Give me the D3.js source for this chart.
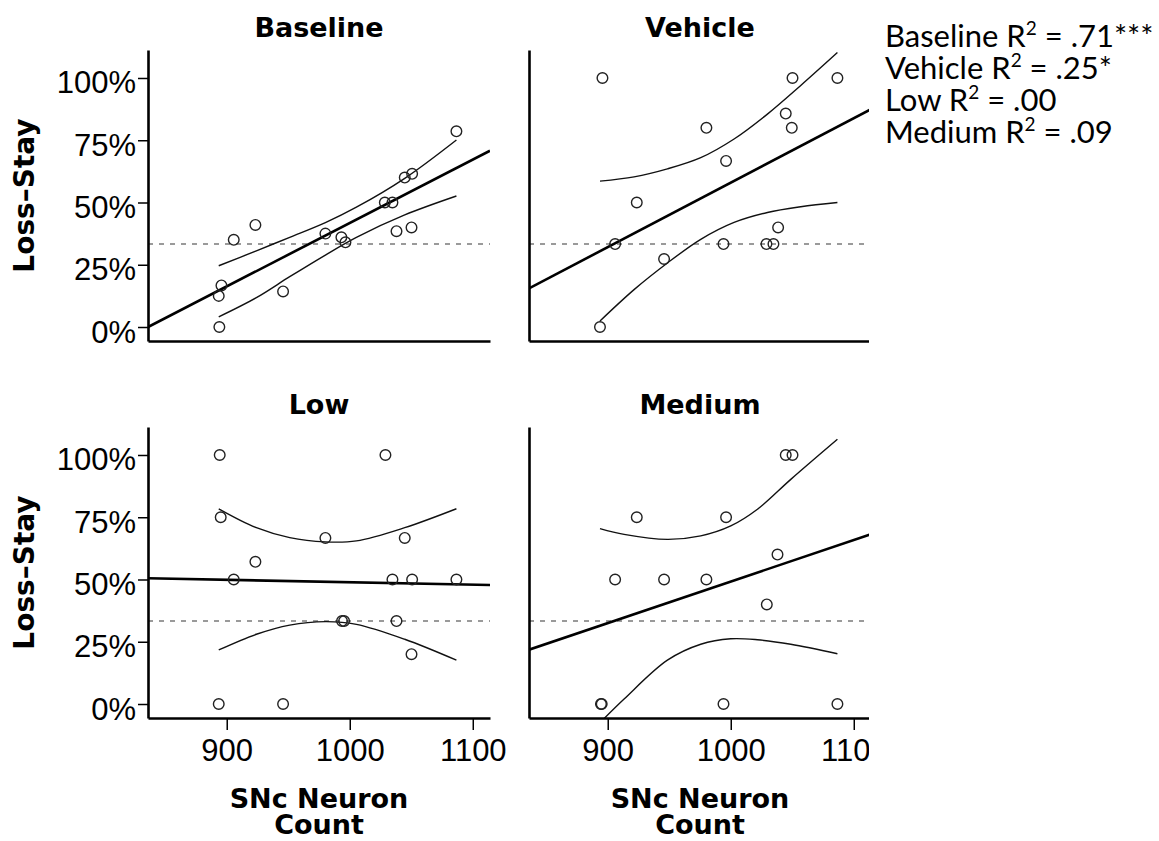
<!DOCTYPE html>
<html>
<head>
<meta charset="utf-8">
<script src="https://cdn.jsdelivr.net/npm/d3@7"></script>
<style>
body { margin: 0; background: #fff; }
</style>
</head>
<body>
<div id="chart"></div>
<script>

// ---- data ----
var panelNames = [ "Baseline", "Vehicle", "Low", "Medium" ];
var r2Names = [ "Baseline", "Vehicle", "Low", "Medium" ];
var r2Values = [ " = .71***", " = .25*", " = .00", " = .09" ];

var xTicks = [ 900, 1000, 1100 ];
var yTicks = [ 0, 0.25, 0.5, 0.75, 1 ];
var chanceLevel = 1 / 3;

var baselineX = [ 894, 893.5, 895.7, 905.7, 923.3, 945.8, 980.2, 993.2, 996.5, 1028.5, 1034.7, 1038, 1044.7, 1050.7, 1050.2, 1086.7 ];
var baselineY = [ 0, 0.125, 0.167, 0.35, 0.41, 0.143, 0.375, 0.36, 0.34, 0.5, 0.5, 0.385, 0.6, 0.615, 0.4, 0.786 ];
var baselineFit = [ 0.0, 0.708 ];
var baselineCiX = [ 893.5, 924.1, 951.2, 980.2, 1005.4, 1044.7, 1086.7 ];
var baselineCiUp = [ 0.246, 0.306, 0.36, 0.419, 0.481, 0.597, 0.751 ];
var baselineCiLo = [ 0.041, 0.118, 0.202, 0.289, 0.36, 0.45, 0.526 ];

var vehicleX = [ 895.7, 893.7, 906, 923.6, 945.8, 980.2, 996.2, 994.1, 1029, 1034.7, 1038.5, 1044.7, 1050.2, 1049.6, 1086.7 ];
var vehicleY = [ 1, 0, 0.333, 0.5, 0.273, 0.8, 0.667, 0.333, 0.333, 0.333, 0.4, 0.857, 1, 0.8, 1 ];
var vehicleFit = [ 0.155, 0.875 ];
var vehicleCiX = [ 893.7, 921.4, 948.5, 975.6, 1002.7, 1029.8, 1056.9, 1086.7 ];
var vehicleCiUp = [ 0.586, 0.603, 0.635, 0.68, 0.755, 0.855, 0.97, 1.102 ];
var vehicleCiLo = [ 0.024, 0.15, 0.257, 0.352, 0.42, 0.46, 0.483, 0.5 ];

var lowX = [ 894.3, 895.1, 893.5, 905.7, 923.3, 945.8, 980.2, 993.7, 995.4, 1029, 1034.7, 1038, 1044.7, 1050.7, 1050.2, 1086.7 ];
var lowY = [ 1, 0.75, 0, 0.5, 0.571, 0, 0.667, 0.333, 0.333, 1, 0.5, 0.333, 0.667, 0.5, 0.2, 0.5 ];
var lowFit = [ 0.505, 0.478 ];
var lowCiX = [ 893.5, 924.1, 951.2, 980.2, 1005.4, 1044.7, 1086.7 ];
var lowCiUp = [ 0.784, 0.708, 0.668, 0.651, 0.655, 0.708, 0.784 ];
var lowCiLo = [ 0.217, 0.28, 0.317, 0.331, 0.32, 0.26, 0.176 ];

var mediumX = [ 894.5, 895.1, 906, 923.6, 945.8, 980.2, 994.1, 996.2, 1029.3, 1038, 1044.7, 1050.2, 1086.7 ];
var mediumY = [ 0, 0, 0.5, 0.75, 0.5, 0.5, 0, 0.75, 0.4, 0.6, 1, 1, 0 ];
var mediumFit = [ 0.218, 0.682 ];
var mediumCiX = [ 893.7, 913.3, 948.5, 975.6, 1000, 1021.7, 1048.8, 1086.7 ];
var mediumCiUp = [ 0.704, 0.681, 0.661, 0.675, 0.715, 0.782, 0.902, 1.063 ];
var mediumCiLo = [ -0.075, 0.02, 0.176, 0.24, 0.262, 0.258, 0.24, 0.202 ];

var xDomain = [ 836, 1114 ];
var yDomain = [ -0.0562, 1.1124 ];

var panels = [
    { name: panelNames[0], xs: baselineX, ys: baselineY, fit: baselineFit, ciX: baselineCiX, up: baselineCiUp, lo: baselineCiLo, col: 0, row: 0 },
    { name: panelNames[1], xs: vehicleX, ys: vehicleY, fit: vehicleFit, ciX: vehicleCiX, up: vehicleCiUp, lo: vehicleCiLo, col: 1, row: 0 },
    { name: panelNames[2], xs: lowX, ys: lowY, fit: lowFit, ciX: lowCiX, up: lowCiUp, lo: lowCiLo, col: 0, row: 1 },
    { name: panelNames[3], xs: mediumX, ys: mediumY, fit: mediumFit, ciX: mediumCiX, up: mediumCiUp, lo: mediumCiLo, col: 1, row: 1 }
];

// ---- layout ----
var W = 1159, H = 841;
var colLeft = [ 148, 529 ];
var rowTop = [ 50, 427 ];
var pw = 342, ph = 291;

var svg = d3.select( '#chart' ).append( 'svg' )
    .attr( 'width', W ).attr( 'height', H )
    .style( 'font-family', 'DejaVu Sans, sans-serif' );

var defs = svg.append( 'defs' );
defs.append( 'clipPath' ).attr( 'id', 'rightEdge' )
    .append( 'rect' ).attr( 'x', 0 ).attr( 'y', 0 ).attr( 'width', 869 ).attr( 'height', H );
defs.append( 'clipPath' ).attr( 'id', 'plotArea' )
    .append( 'rect' ).attr( 'x', 0 ).attr( 'y', 0 ).attr( 'width', pw ).attr( 'height', ph );

var xScale = d3.scaleLinear().domain( xDomain ).range( [ 0, pw ] );
var yScale = d3.scaleLinear().domain( yDomain ).range( [ ph, 0 ] );

var curve = d3.line()
    .x( function( d ) { return xScale( d[0] ); } )
    .y( function( d ) { return yScale( d[1] ); } )
    .curve( d3.curveCatmullRom.alpha( 0.5 ) );

var rightGroup = svg.append( 'g' ).attr( 'clip-path', 'url(#rightEdge)' );

panels.forEach( function( p ) {

    var parent = p.col == 1 ? rightGroup : svg;
    var g = parent.append( 'g' )
        .attr( 'transform', 'translate(' + colLeft[p.col] + ',' + rowTop[p.row] + ')' );

    // title
    g.append( 'text' )
        .attr( 'x', pw / 2 ).attr( 'y', -13 )
        .attr( 'text-anchor', 'middle' )
        .style( 'font-size', '27px' ).style( 'font-weight', 'bold' )
        .text( p.name );

    var plot = g.append( 'g' ).attr( 'clip-path', 'url(#plotArea)' );

    // chance level
    plot.append( 'line' )
        .attr( 'x1', 0 ).attr( 'x2', pw )
        .attr( 'y1', yScale( chanceLevel ) ).attr( 'y2', yScale( chanceLevel ) )
        .style( 'stroke', '#9a9a9a' ).style( 'stroke-width', 1.8 )
        .style( 'stroke-dasharray', '5,6' );

    // confidence band
    var upPts = p.ciX.map( function( x, i ) { return [ x, p.up[i] ]; } );
    var loPts = p.ciX.map( function( x, i ) { return [ x, p.lo[i] ]; } );
    [ upPts, loPts ].forEach( function( pts ) {
        plot.append( 'path' )
            .attr( 'd', curve( pts ) )
            .style( 'fill', 'none' ).style( 'stroke', '#111' ).style( 'stroke-width', 1.4 );
    });

    // fit line
    plot.append( 'line' )
        .attr( 'x1', xScale( xDomain[0] ) ).attr( 'y1', yScale( p.fit[0] ) )
        .attr( 'x2', xScale( xDomain[1] ) ).attr( 'y2', yScale( p.fit[1] ) )
        .style( 'stroke', '#000' ).style( 'stroke-width', 2.6 );

    // points
    plot.selectAll( 'circle' )
        .data( p.xs.map( function( x, i ) { return [ x, p.ys[i] ]; } ) )
        .enter().append( 'circle' )
        .attr( 'cx', function( d ) { return xScale( d[0] ); } )
        .attr( 'cy', function( d ) { return yScale( d[1] ); } )
        .attr( 'r', 5.3 )
        .style( 'fill', 'none' ).style( 'stroke', '#222' ).style( 'stroke-width', 1.4 );

    // axes
    var yAxis = d3.axisLeft( yScale ).tickValues( p.col == 0 ? yTicks : [] )
        .tickSize( 10 ).tickSizeOuter( 0 ).tickPadding( 2 )
        .tickFormat( d3.format( '.0%' ) );
    var ya = g.append( 'g' ).call( yAxis );
    ya.selectAll( 'text' ).attr( 'dy', 15 )
        .style( 'font-family', 'Liberation Sans, Arial, sans-serif' ).style( 'font-size', '31px' ).style( 'fill', '#000' );

    var xAxis = d3.axisBottom( xScale ).tickValues( p.row == 1 ? xTicks : [] )
        .tickSize( 12 ).tickSizeOuter( 0 ).tickFormat( d3.format( 'd' ) );
    var xa = g.append( 'g' ).attr( 'transform', 'translate(0,' + ph + ')' ).call( xAxis );
    xa.selectAll( 'text' ).attr( 'y', 43 ).attr( 'dy', 0 )
        .style( 'font-family', 'Liberation Sans, Arial, sans-serif' ).style( 'font-size', '31px' ).style( 'fill', '#000' );

    [ ya, xa ].forEach( function( a ) {
        a.select( '.domain' ).style( 'stroke', '#000' ).style( 'stroke-width', 2.6 );
        a.selectAll( '.tick line' ).style( 'stroke', '#000' ).style( 'stroke-width', 1.5 );
    });

    // axis titles
    if ( p.col == 0 ) {
        g.append( 'text' )
            .attr( 'transform', 'translate(' + ( 34 - colLeft[0] ) + ',' + ph / 2 + ') rotate(-90)' )
            .attr( 'text-anchor', 'middle' )
            .style( 'font-size', '28px' ).style( 'font-weight', 'bold' )
            .text( 'Loss\u2013Stay' );
    }
    if ( p.row == 1 ) {
        var t = g.append( 'text' )
            .attr( 'text-anchor', 'middle' )
            .style( 'font-size', '27px' ).style( 'font-weight', 'bold' );
        t.append( 'tspan' ).attr( 'x', pw / 2 ).attr( 'y', 808 - rowTop[1] ).text( 'SNc Neuron' );
        t.append( 'tspan' ).attr( 'x', pw / 2 ).attr( 'y', 834 - rowTop[1] ).text( 'Count' );
    }
});

// R squared notes
var notes = svg.append( 'g' ).style( 'font-family', 'Lato, sans-serif' ).style( 'font-size', '31px' );
r2Names.forEach( function( n, i ) {
    var t = notes.append( 'text' ).attr( 'x', 885 ).attr( 'y', 47 + i * 32 );
    t.append( 'tspan' ).text( n + ' R' );
    t.append( 'tspan' ).attr( 'dy', -12 ).style( 'font-size', '19px' ).text( '2' );
    t.append( 'tspan' ).attr( 'dy', 12 ).text( r2Values[i] );
});

</script>
</body>
</html>
